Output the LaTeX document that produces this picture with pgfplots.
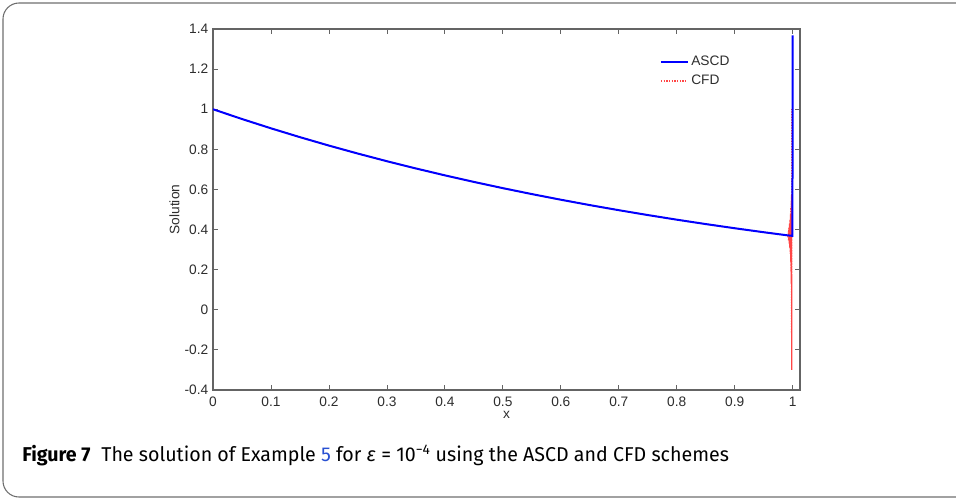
\documentclass[border=0pt]{standalone}
\usepackage{pgfplots}
\pgfplotsset{compat=1.18}
\usepackage{fontspec}
\setmainfont{Liberation Sans}
\newfontfamily\capfont{Fira Sans}
\usepackage{graphicx}
\definecolor{axgray}{RGB}{100,100,100}
\definecolor{txtgray}{RGB}{45,45,45}
\definecolor{framegray}{RGB}{110,110,110}
\definecolor{linkblue}{RGB}{40,80,210}
\definecolor{cfdred}{RGB}{255,70,70}
\begin{document}
\begin{tikzpicture}[x=0.75pt,y=-0.75pt]
\path[use as bounding box] (0,0) rectangle (956,501);
\begin{scope}
\clip (0,0) rectangle (956,501);
\draw[framegray, line width=0.8pt, rounded corners=12] (3,3) rectangle (1000,497);
\end{scope}
\coordinate (axsw) at (213,390);
\begin{axis}[
  at={(axsw)}, anchor=south west,
  scale only axis, width=440.25pt, height=270.75pt,
  xmin=0, xmax=1.0126, ymin=-0.4, ymax=1.4,
  xtick={0,0.1,0.2,0.3,0.4,0.5,0.6,0.7,0.8,0.9,1},
  xticklabels={0,0.1,0.2,0.3,0.4,0.5,0.6,0.7,0.8,0.9,1},
  ytick={-0.4,-0.2,0,0.2,0.4,0.6,0.8,1,1.2,1.4},
  yticklabels={-0.4,-0.2,0,0.2,0.4,0.6,0.8,1,1.2,1.4},
  tick align=inside, major tick length=3.75pt,
  tick style={axgray, line width=0.6pt},
  axis line style={axgray, line width=0.8pt},
  ticklabel style={font=\fontsize{10.3}{12}\selectfont, text=txtgray},
  xticklabel style={yshift=-1.5pt},
  xlabel={x}, ylabel={Solution},
  label style={font=\fontsize{10.3}{12}\selectfont, text=txtgray},
  xlabel style={yshift=3pt},
  ylabel style={yshift=-3pt},
  legend style={draw=none, fill=none, at={(0.761,0.933)}, anchor=north west,
    font=\fontsize{10.3}{12}\selectfont, text=txtgray, row sep=1.5pt, inner sep=0pt,
    cells={anchor=west}},
  legend image code/.code={\draw[#1] (0pt,0pt) -- (20pt,0pt);},
]
\addplot[color=cfdred, densely dotted, line width=1pt, forget plot] coordinates {
(0,1.0000) (0.05,0.9512) (0.1,0.9048) (0.15,0.8607) (0.2,0.8187) (0.25,0.7788)
(0.3,0.7408) (0.35,0.7047) (0.4,0.6703) (0.45,0.6376) (0.5,0.6065) (0.55,0.5769)
(0.6,0.5488) (0.65,0.5220) (0.7,0.4966) (0.75,0.4724) (0.8,0.4493) (0.85,0.4274)
(0.9,0.4066) (0.95,0.3867) (0.99,0.3716)
(0.9915,0.372) (0.9920,0.360) (0.9925,0.390) (0.9930,0.345) (0.9935,0.410)
(0.9940,0.330) (0.9945,0.430) (0.9950,0.310) (0.9955,0.450) (0.9960,0.280)
(0.9963,0.480) (0.9966,0.240) (0.9969,0.510) (0.9972,0.190) (0.9975,0.540)
(0.9977,0.130) (0.9979,0.570) (0.9981,0.080) (0.9983,-0.300) (0.9986,1.000)
};
\addplot[color=blue, line width=1.5pt] coordinates {
(0,1.0000) (0.05,0.9512) (0.1,0.9048) (0.15,0.8607) (0.2,0.8187) (0.25,0.7788)
(0.3,0.7408) (0.35,0.7047) (0.4,0.6703) (0.45,0.6376) (0.5,0.6065) (0.55,0.5769)
(0.6,0.5488) (0.65,0.5220) (0.7,0.4966) (0.75,0.4724) (0.8,0.4493) (0.85,0.4274)
(0.9,0.4066) (0.95,0.3867) (0.99,0.3716) (0.9995,0.3686) (1.0,1.368)
};
\addlegendentry{ASCD}
\addlegendimage{color=cfdred, densely dotted, line width=1pt}
\addlegendentry{CFD}
\end{axis}
\node[anchor=west, inner sep=0pt] at (22,455) {\resizebox{530pt}{\height}{\capfont\fontsize{15}{17}\selectfont\textbf{Figure 7}\hspace{0.55em}The solution of Example \textcolor{linkblue}{5} for {\itshape ε} = 10\textsuperscript{−4} using the ASCD and CFD schemes}};
\end{tikzpicture}
\end{document}
